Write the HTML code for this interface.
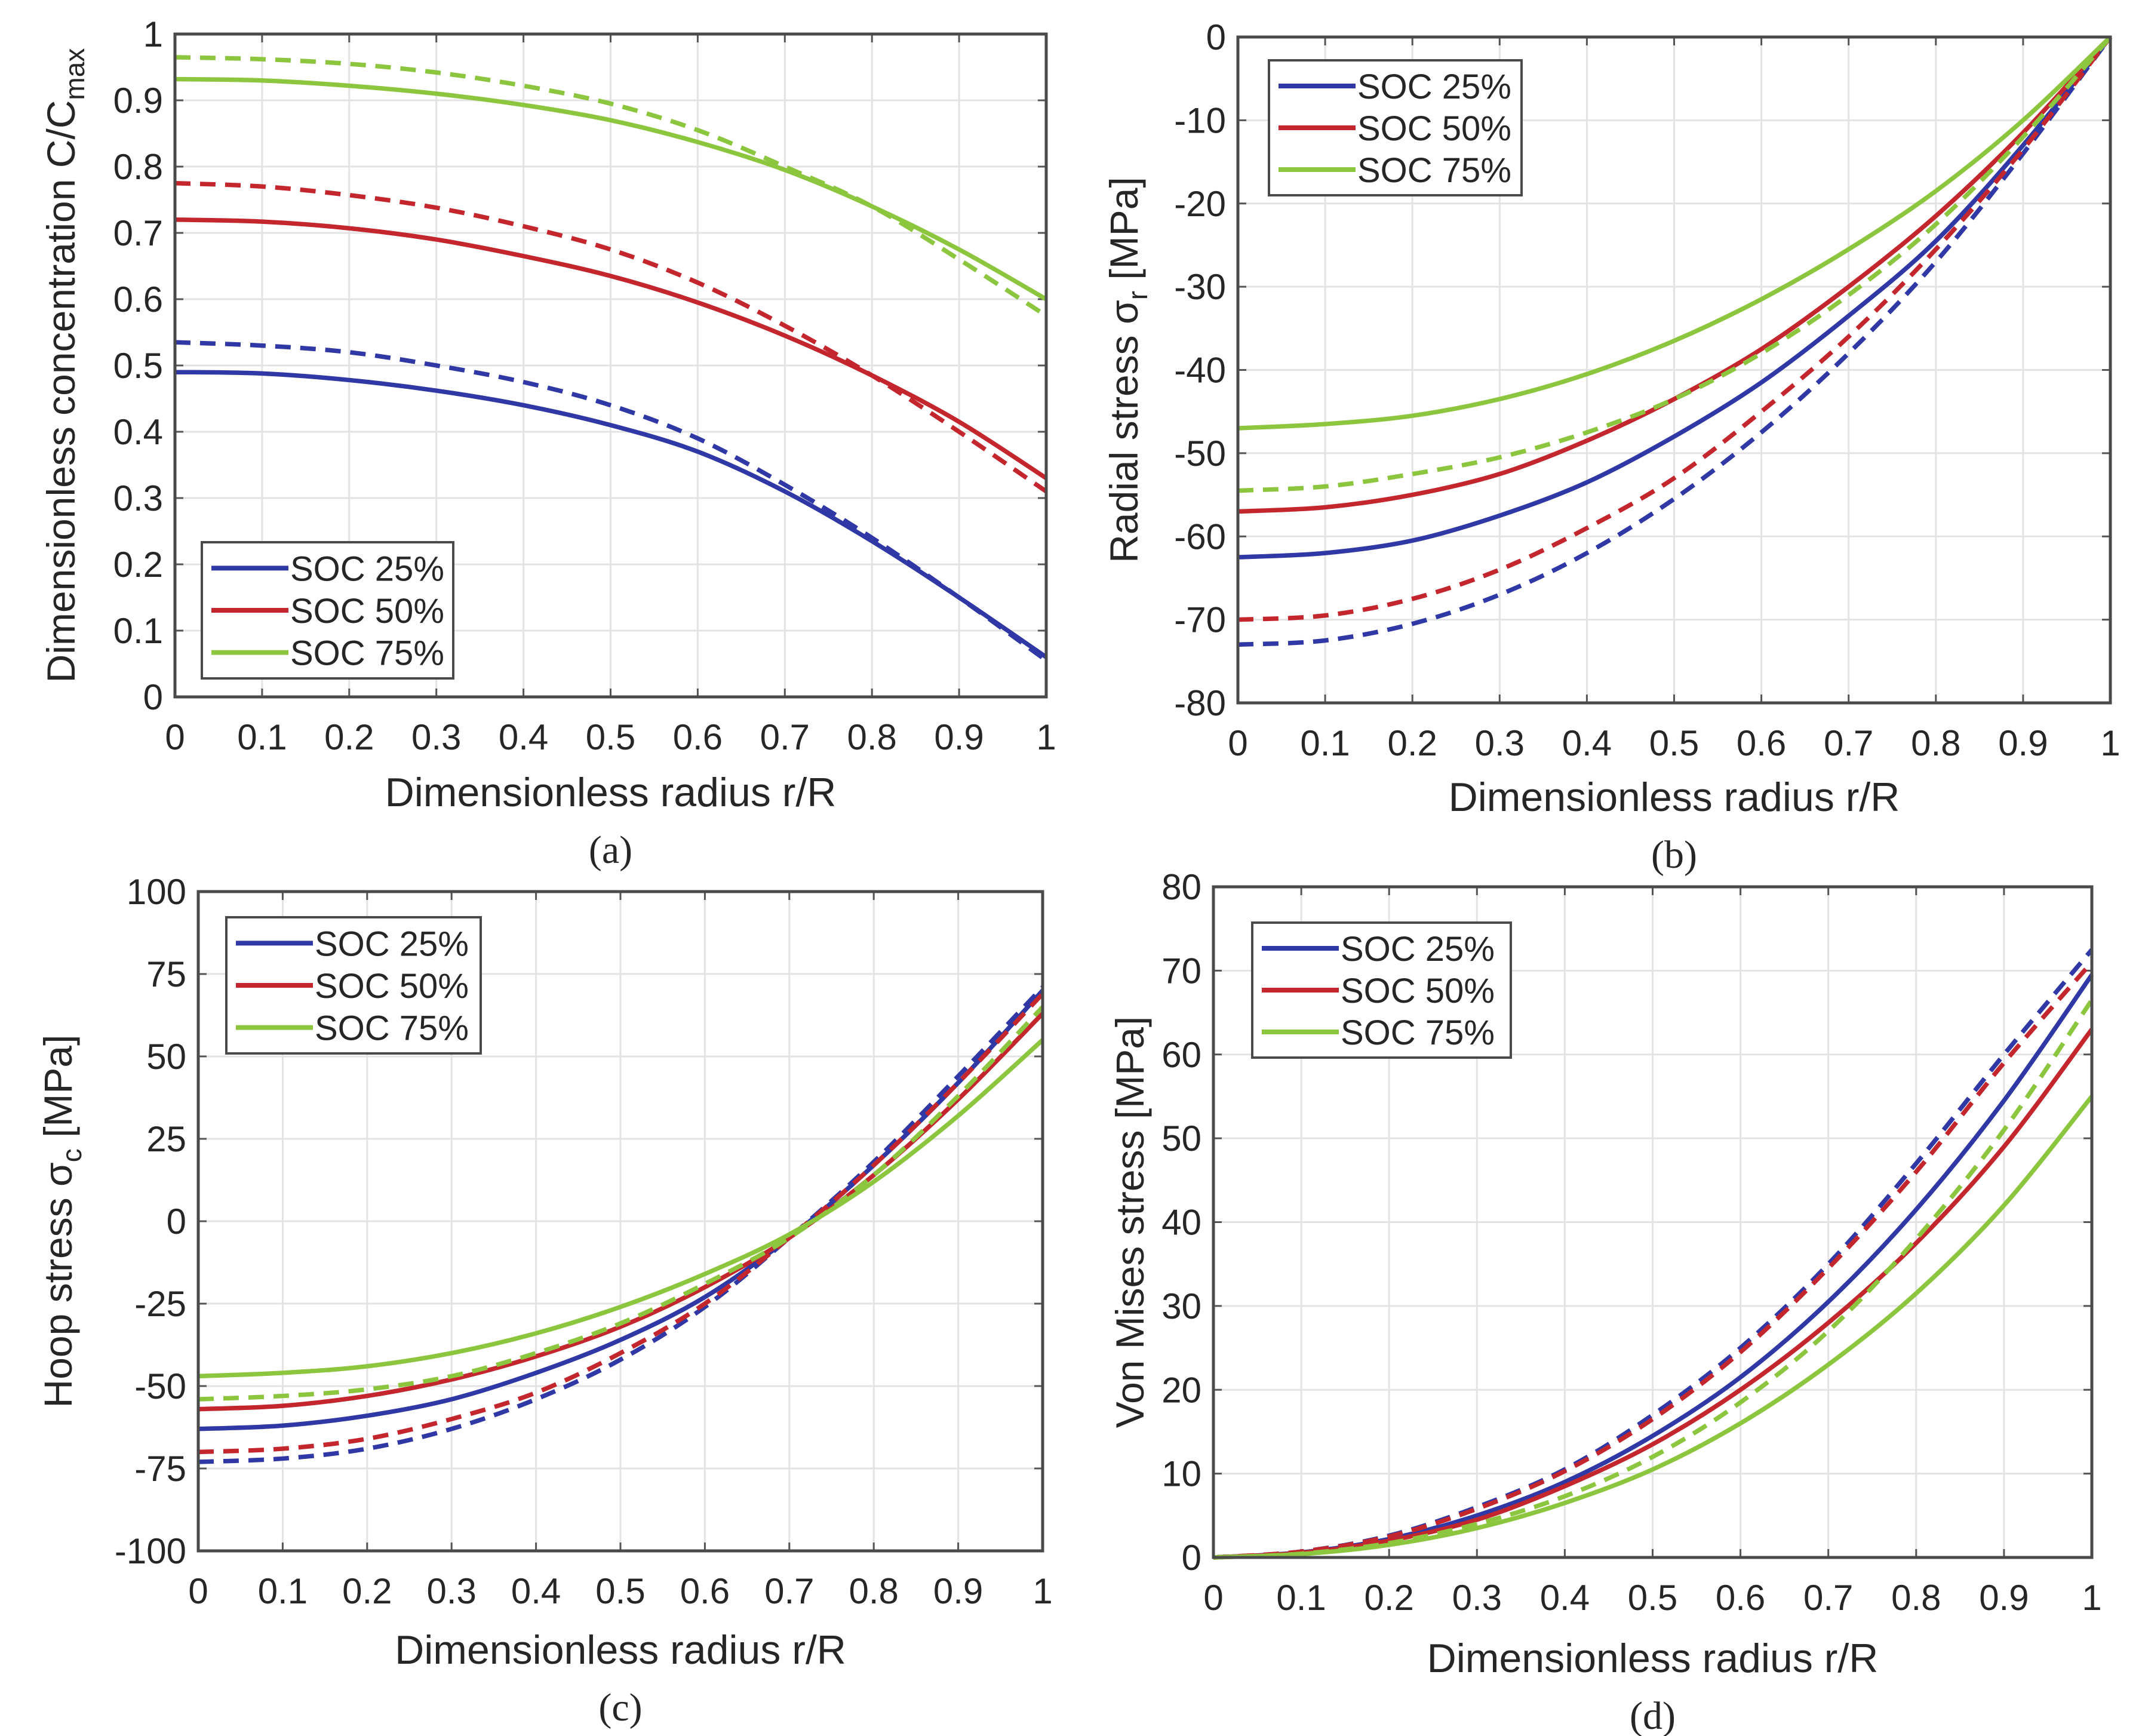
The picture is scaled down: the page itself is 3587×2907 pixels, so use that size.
<!DOCTYPE html>
<html><head><meta charset="utf-8"><style>
html,body{margin:0;padding:0;background:#fff;}
svg{display:block;}
text{font-family:"Liberation Sans",sans-serif;fill:#262626;}
.cap{font-family:"Liberation Serif",serif;}
</style></head><body>
<svg id="fig" width="3587" height="2907" viewBox="0 0 3587 2907" xmlns="http://www.w3.org/2000/svg"></svg>
<script>
const xs = [0,0.1,0.2,0.3,0.4,0.5,0.6,0.7,0.8,0.9,1];
const xTicks = [0,0.1,0.2,0.3,0.4,0.5,0.6,0.7,0.8,0.9,1];
const xTickLabels = ["0","0.1","0.2","0.3","0.4","0.5","0.6","0.7","0.8","0.9","1"];
const seriesNames = ["SOC 25%","SOC 50%","SOC 75%"];
// panel a
const aTicks = [0,0.1,0.2,0.3,0.4,0.5,0.6,0.7,0.8,0.9,1];
const aTickLabels = ["0","0.1","0.2","0.3","0.4","0.5","0.6","0.7","0.8","0.9","1"];
const aBlue = [0.49,0.488,0.478,0.462,0.44,0.41,0.37,0.31,0.235,0.15,0.06];
const aBlueD = [0.535,0.53,0.52,0.5,0.475,0.44,0.39,0.32,0.24,0.15,0.055];
const aRed = [0.72,0.717,0.707,0.69,0.665,0.635,0.595,0.545,0.485,0.415,0.33];
const aRedD = [0.775,0.77,0.757,0.738,0.71,0.675,0.625,0.56,0.485,0.4,0.31];
const aGreen = [0.932,0.93,0.922,0.91,0.893,0.87,0.837,0.795,0.74,0.675,0.6];
const aGreenD = [0.965,0.962,0.955,0.942,0.922,0.895,0.855,0.8,0.74,0.66,0.575];
// panel b
const bTicks = [-80,-70,-60,-50,-40,-30,-20,-10,0];
const bTickLabels = ["-80","-70","-60","-50","-40","-30","-20","-10","0"];
const bBlue = [-62.5,-62,-60.5,-57.5,-53.5,-48,-41.5,-33.5,-24.5,-13,0];
const bBlueD = [-73,-72.5,-70.5,-67,-62,-55.5,-47.5,-38,-27,-14,0];
const bRed = [-57,-56.5,-55,-52.5,-48.5,-43.5,-37.5,-30,-21.5,-11.5,0];
const bRedD = [-70,-69.5,-67.5,-64,-59,-53,-45,-36,-25.5,-13.5,0];
const bGreen = [-47,-46.5,-45.5,-43.5,-40.5,-36.5,-31.5,-25.5,-18.5,-10,0];
const bGreenD = [-54.5,-54,-52.5,-50.5,-47.5,-43.5,-38,-31,-22.5,-12,0];
// panel c
const cTicks = [-100,-75,-50,-25,0,25,50,75,100];
const cTickLabels = ["-100","-75","-50","-25","0","25","50","75","100"];
const cBlue = [-63,-62,-59,-54,-46,-36,-23,-5,17,42,70];
const cBlueD = [-73,-72,-69,-63,-54,-42,-26,-5,18,44,71];
const cRed = [-57,-56,-53,-48,-41,-32,-20,-5,14,37,63];
const cRedD = [-70,-69,-66,-60,-52,-40,-25,-5,17,42,69];
const cGreen = [-47,-46,-44,-40,-34,-26,-16,-4,12,32,55];
const cGreenD = [-54,-53,-51,-47,-40,-31,-19,-5,14,38,65];
// panel d
const dTicks = [0,10,20,30,40,50,60,70,80];
const dTickLabels = ["0","10","20","30","40","50","60","70","80"];
const dBlue = [0,0.6,2.2,5,9,14.5,21.5,30.5,41.5,54.5,69.5];
const dBlueD = [0,0.7,2.6,6,10.5,17,25,35,47,60,72.5];
const dRed = [0,0.55,2,4.5,8.5,13.5,20,28,37.5,49,63];
const dRedD = [0,0.7,2.5,5.8,10.3,16.5,24.5,34.5,46,59,71];
const dGreen = [0,0.4,1.5,3.5,6.5,10.5,16,23,31.5,42,55];
const dGreenD = [0,0.45,1.7,4,7.3,12,18.5,27,38,51,66.5];

const COLORS = ["#3038a6","#c4262e","#8cc63e"];
const NS = "http://www.w3.org/2000/svg";
const fig = document.getElementById('fig');
function mk(tag, attrs, parent, txt){
  const e = document.createElementNS(NS, tag);
  for (const k in attrs) e.setAttribute(k, attrs[k]);
  if (txt !== undefined) e.textContent = txt;
  (parent||fig).appendChild(e); return e;
}
function smoothPath(pts){
  let d = "M"+pts[0][0]+","+pts[0][1];
  for (let i=0;i<pts.length-1;i++){
    const p0=pts[Math.max(0,i-1)],p1=pts[i],p2=pts[i+1],p3=pts[Math.min(pts.length-1,i+2)];
    const c1=[p1[0]+(p2[0]-p0[0])/6,p1[1]+(p2[1]-p0[1])/6];
    const c2=[p2[0]-(p3[0]-p1[0])/6,p2[1]-(p3[1]-p1[1])/6];
    d+=" C"+c1[0]+","+c1[1]+" "+c2[0]+","+c2[1]+" "+p2[0]+","+p2[1];
  }
  return d;
}
function panel(cfg){
  const g = mk('g',{});
  
  
  const {L,R,T,B,ymin,ymax} = cfg;
  const sx = v => L + (v-0)*(R-L);
  const sy = v => B - (v-ymin)/(ymax-ymin)*(B-T);
  xTicks.forEach((t,i)=>{
    const x=sx(t);
    if(i>0&&i<xTicks.length-1){ const l=mk('line',{x1:x,x2:x,y1:T,y2:B,stroke:"#e3e3e3","stroke-width":3},g);
        }
    mk('line',{x1:x,x2:x,y1:B,y2:B-14,stroke:"#555","stroke-width":3},g);
    mk('line',{x1:x,x2:x,y1:T,y2:T+14,stroke:"#555","stroke-width":3},g);
    const tl=mk('text',{x:x,y:B+88,"font-size":60,"text-anchor":"middle"},g,xTickLabels[i]);
     
  });
  cfg.ticks.forEach((t,i)=>{
    const y=sy(t);
    if(i>0&&i<cfg.ticks.length-1){ const l=mk('line',{x1:L,x2:R,y1:y,y2:y,stroke:"#e3e3e3","stroke-width":3},g);
        }
    mk('line',{x1:L,x2:L+14,y1:y,y2:y,stroke:"#555","stroke-width":3},g);
    mk('line',{x1:R,x2:R-14,y1:y,y2:y,stroke:"#555","stroke-width":3},g);
    const tl=mk('text',{x:L-20,y:y+21,"font-size":60,"text-anchor":"end"},g,cfg.tickLabels[i]);
     
  });
  const defs=[[cfg.s[0],0,false],[cfg.s[1],0,true],[cfg.s[2],1,false],[cfg.s[3],1,true],[cfg.s[4],2,false],[cfg.s[5],2,true]];
  defs.forEach(([arr,ci,dash])=>{
    const pts = xs.map((x,i)=>[sx(x),sy(arr[i])]);
    const p = mk('path',{d:smoothPath(pts),fill:"none",stroke:COLORS[ci],"stroke-width":7.5,"stroke-dasharray":dash?"26 16":"none"},g);
    
    
  });
  const box=mk('rect',{x:L,y:T,width:R-L,height:B-T,fill:"none",stroke:"#4a4a4a","stroke-width":5},g);
   
  const lg=mk('g',{},g);
   
  const [lx,ly,lw,lh]=cfg.leg;
  mk('rect',{x:lx,y:ly,width:lw,height:lh,fill:"#fff",stroke:"#4a4a4a","stroke-width":4},lg);
  seriesNames.forEach((n,i)=>{
    const yy=ly+lh*(0.19+0.31*i);
    const e=mk('g',{},lg);
     
    mk('line',{x1:lx+16,x2:lx+145,y1:yy,y2:yy,stroke:COLORS[i],"stroke-width":8},e);
    mk('text',{x:lx+148,y:yy+21,"font-size":58},e,n);
  });
  const xl=mk('text',{x:(L+R)/2,y:cfg.xlY,"font-size":68,"text-anchor":"middle"},g,"Dimensionless radius r/R");
   
  const yl=mk('text',{x:0,y:0,"font-size":66,"text-anchor":"middle",transform:`translate(${cfg.ylX},${(T+B)/2}) rotate(-90)`},g);
   
  yl.innerHTML = cfg.ylabel;
  const cp=mk('text',{x:(L+R)/2,y:cfg.xlY+95,"font-size":66,"text-anchor":"middle",class:"cap"},g,cfg.cap);
   
}
panel({id:'a',L:293,R:1752,T:57,B:1167,ymin:0,ymax:1,ticks:aTicks,tickLabels:aTickLabels,
  s:[aBlue,aBlueD,aRed,aRedD,aGreen,aGreenD],leg:[338,908,421,228],xlY:1350,ylX:125,
  ylabel:'Dimensionless concentration C/C<tspan font-size="46" dy="16">max</tspan>',cap:'(a)'});
panel({id:'b',L:2073,R:3534,T:62,B:1177,ymin:-80,ymax:0,ticks:bTicks,tickLabels:bTickLabels,
  s:[bBlue,bBlueD,bRed,bRedD,bGreen,bGreenD],leg:[2125,101,423,226],xlY:1358,ylX:1905,
  ylabel:'Radial stress σ<tspan font-size="46" dy="16">r</tspan><tspan dy="-16"> [MPa]</tspan>',cap:'(b)'});
panel({id:'c',L:332,R:1746,T:1493,B:2597,ymin:-100,ymax:100,ticks:cTicks,tickLabels:cTickLabels,
  s:[cBlue,cBlueD,cRed,cRedD,cGreen,cGreenD],leg:[379,1536,426,228],xlY:2786,ylX:120,
  ylabel:'Hoop stress σ<tspan font-size="46" dy="16">c</tspan><tspan dy="-16"> [MPa]</tspan>',cap:'(c)'});
panel({id:'d',L:2032,R:3503,T:1485,B:2608,ymin:0,ymax:80,ticks:dTicks,tickLabels:dTickLabels,
  s:[dBlue,dBlueD,dRed,dRedD,dGreen,dGreenD],leg:[2097,1545,433,226],xlY:2800,ylX:1915,
  ylabel:'Von Mises stress [MPa]',cap:'(d)'});
</script>
</body></html>
